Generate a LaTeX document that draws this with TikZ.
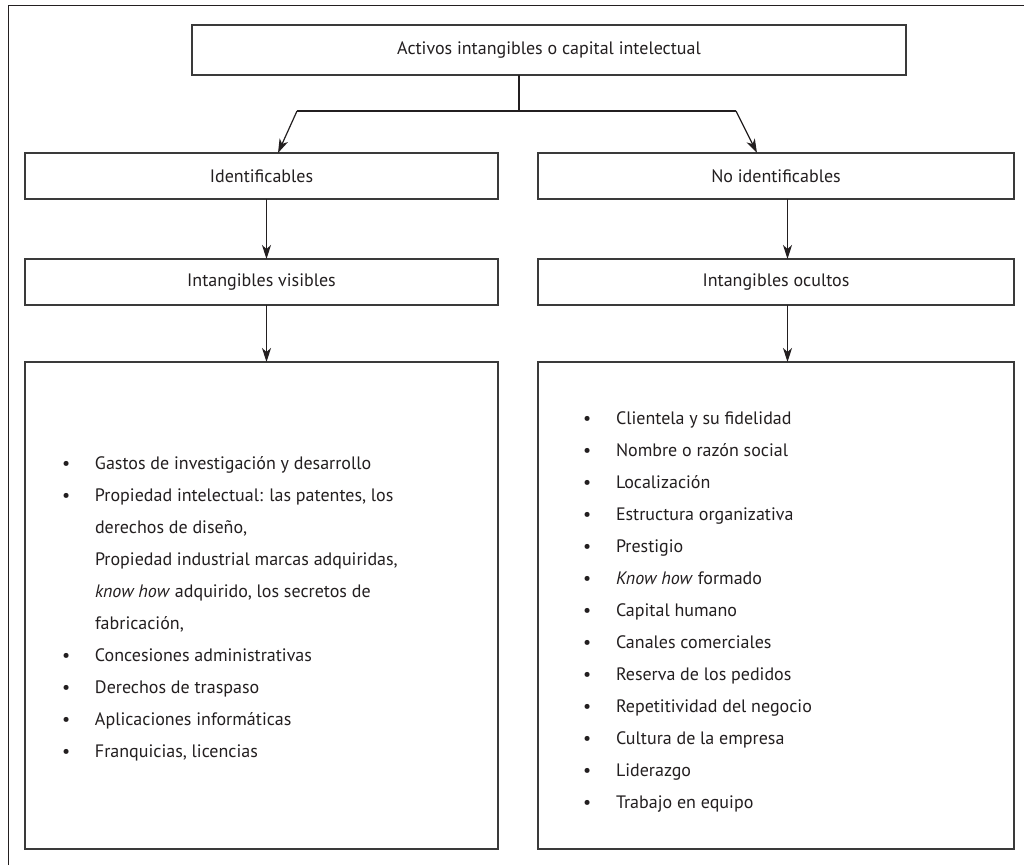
\documentclass[tikz,border=0pt]{standalone}
\usepackage{fontspec}
\setmainfont{PT Sans}
\usetikzlibrary{arrows.meta}
\definecolor{ink}{HTML}{231F20}
\definecolor{edge}{HTML}{3A3A3A}
\tikzset{
  box/.style={draw=edge, line width=1.6pt, rectangle, inner sep=0pt, outer sep=0pt,
    text=ink, font=\fontsize{18}{22}\selectfont},
  wide/.style={box, minimum width=473pt, minimum height=46pt},
  wider/.style={box, minimum width=476pt, minimum height=46pt},
  listbox/.style={box, minimum height=487pt},
  listtext/.style={inner sep=0pt, outer sep=0pt, text=ink, anchor=west},
  conn/.style={draw=ink, line width=1.2pt},
  arr/.style={conn, -{Stealth[length=14pt,width=9pt,inset=4pt]}},
  frame/.style={draw=ink, line width=1.4pt}
}
\newcommand{\bl}{\textbullet}
\begin{document}
\begin{tikzpicture}[x=1pt,y=-1pt]
\useasboundingbox (0,0) rectangle (1024,865);
\fill[white] (0,0) rectangle (1024,865);
% partial outer frame
\coordinate (fa) at (8.5,865);
\coordinate (fb) at (8.5,5.5);
\coordinate (fc) at (1024,5.5);
\draw[frame] (fa) -- (fb) -- (fc);

% boxes
\node[box, minimum width=714pt, minimum height=50pt] (top) at (549,50) {Activos intangibles o capital intelectual};
\node[wide]  (ident)   at (261.5,176) {Identificables};
\node[wider] (noident) at (776,176)   {No identificables};
\node[wide]  (vis)     at (261.5,282) {Intangibles visibles};
\node[wider] (ocu)     at (776,282)   {Intangibles ocultos};
\node[listbox, minimum width=473pt] (listL) at (261.5,605.5) {};
\node[listbox, minimum width=476pt] (listR) at (776,605.5) {};

% list texts
\node[listtext] (textL) at (62,607) {\fontsize{18}{32}\selectfont
\begin{tabular}{@{}p{33pt}@{}l@{}}
\bl & Gastos de investigación y desarrollo\\
\bl & Propiedad intelectual: las patentes, los\\
    & derechos de diseño,\\
    & Propiedad industrial marcas adquiridas,\\
    & \textit{know how} adquirido, los secretos de\\
    & fabricación,\\
\bl & Concesiones administrativas\\
\bl & Derechos de traspaso\\
\bl & Aplicaciones informáticas\\
\bl & Franquicias, licencias
\end{tabular}};
\node[listtext] (textR) at (583,610) {\fontsize{18}{32}\selectfont
\begin{tabular}{@{}p{33pt}@{}l@{}}
\bl & Clientela y su fidelidad\\
\bl & Nombre o razón social\\
\bl & Localización\\
\bl & Estructura organizativa\\
\bl & Prestigio\\
\bl & \textit{Know how} formado\\
\bl & Capital humano\\
\bl & Canales comerciales\\
\bl & Reserva de los pedidos\\
\bl & Repetitividad del negocio\\
\bl & Cultura de la empresa\\
\bl & Liderazgo\\
\bl & Trabajo en equipo
\end{tabular}};

% connectors
\coordinate (jl) at (297,111);
\coordinate (jr) at (736,111);
\coordinate (jm) at (519,111);
\draw[conn] (top.south -| jm) -- (jm);
\draw[conn] (jl) -- (jr);
\draw[arr] (jl) -- ([xshift=16.5pt]ident.north);
\draw[arr] (jr) -- ([xshift=-19pt]noident.north);
\draw[arr] ([xshift=5pt]ident.south) -- ([xshift=5pt]vis.north);
\draw[arr] ([xshift=11.5pt]noident.south) -- ([xshift=11.5pt]ocu.north);
\draw[arr] ([xshift=5pt]vis.south) -- ([xshift=5pt]listL.north);
\draw[arr] ([xshift=11.5pt]ocu.south) -- ([xshift=11.5pt]listR.north);
\end{tikzpicture}
\end{document}
